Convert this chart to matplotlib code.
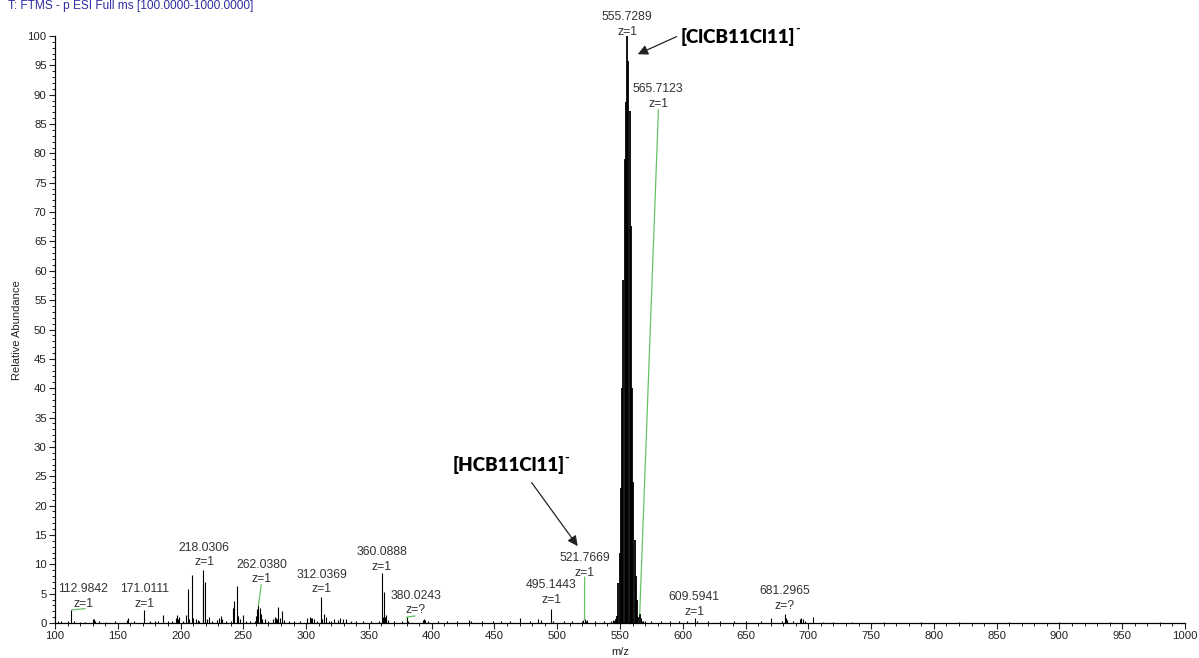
import matplotlib
matplotlib.use("Agg")
import matplotlib.pyplot as plt
import matplotlib.transforms as mtransforms
from matplotlib.ticker import MultipleLocator

# ---------------- data ----------------
mz = [102, 105, 110, 112.9842, 115, 120, 124, 130.0, 131.0, 132.0, 135, 141, 148,
      157.0, 158.0, 163, 171.0111, 176, 180, 182, 186.0, 190, 193, 196.0, 197.0,
      198.0, 199.0, 202, 204.0, 206.0, 207.0, 208.8, 210.0, 212, 214, 215,
      217.6, 218.0306, 219.6, 221.0, 222.5, 225, 229, 231.0, 232.0, 233.0, 236,
      240, 241.5, 242.5, 244.8, 246.0, 247.5, 249.5, 252, 255, 259, 260.0, 261.0,
      262.0380, 263.0, 264.0, 265.0, 267, 270, 274, 275.0, 276.0, 277, 278.0,
      279, 280.5, 282, 286, 290, 295,
      301.0, 303.0, 304.0, 305.0, 306.0, 309, 312.0369, 313, 314.0, 316.0, 318,
      320, 322.0, 325.0, 327.0, 329, 332.0, 336, 340, 345, 352, 358, 360.0888,
      361.0, 362.0, 363.0, 364.0, 365, 370, 376, 380.0243, 381, 393.0, 394.0,
      395.0, 397, 405, 412, 420, 430.0, 431, 440, 449, 455, 462, 470.0, 478,
      485.0, 487, 495.1443, 497, 505, 512, 519.8, 520.8, 521.7669, 522.8, 523.8,
      530, 537, 543, 544.7, 545.7, 546.7,
      547.7, 548.7, 549.7, 550.7, 551.7, 552.7, 553.7, 554.7, 555.7289, 556.7,
      557.7, 558.7, 559.7, 560.7, 561.7, 562.7, 563.7, 564.7, 565.7123, 566.7,
      567.7, 568.7, 570,
      575, 583, 590, 597, 603, 609.5941, 611, 620, 630, 641, 650, 662, 670.5,
      679, 681.2965, 682.3, 683.3, 688, 693.5, 694.5, 695.5, 697, 704, 712, 720,
      735, 760, 790, 820, 860, 900, 940, 980]
intensity = [0.3, 0.3, 0.3, 2.2, 0.3, 0.2, 0.2, 0.6, 0.7, 0.4, 0.3, 0.2, 0.3,
             0.5, 0.9, 0.3, 2.2, 0.3, 0.4, 0.3, 1.4, 0.3, 0.4, 0.8, 1.3,
             0.6, 1.1, 0.3, 1.3, 5.8, 0.6, 8.2, 0.8, 0.6, 0.5, 0.4,
             6.4, 9.0, 7.0, 0.6, 1.0, 0.4, 0.5, 0.8, 1.2, 0.7, 0.3,
             0.4, 2.6, 3.8, 6.3, 1.2, 0.6, 1.3, 0.4, 0.3, 0.4, 1.2, 2.3,
             3.0, 2.5, 1.5, 0.7, 0.6, 0.3, 0.6, 1.0, 0.8, 0.6, 2.8,
             0.8, 2.0, 0.5, 0.3, 0.3, 0.3,
             0.8, 1.0, 0.8, 0.9, 0.6, 0.4, 4.5, 0.7, 1.5, 1.0, 0.4,
             0.3, 0.6, 0.5, 0.9, 0.7, 0.6, 0.3, 0.3, 0.3, 0.3, 0.4, 8.5,
             1.0, 5.2, 1.1, 1.3, 0.5, 0.3, 0.3, 1.0, 0.4, 0.5, 0.6,
             0.5, 0.4, 0.3, 0.3, 0.3, 0.5, 0.3, 0.3, 0.3, 0.3, 0.3, 0.8, 0.3,
             0.7, 0.5, 2.4, 0.3, 0.3, 0.3, 0.4, 0.5, 0.6, 0.4, 0.5,
             0.3, 0.3, 0.4, 0.5, 0.4, 0.6,
             1.2, 6.8, 12.0, 23.0, 40.0, 58.5, 79.0, 88.7, 100.0, 95.8,
             87.3, 67.6, 40.0, 24.1, 14.2, 8.0, 3.9, 1.1, 1.6, 0.8,
             0.4, 0.3, 0.3,
             0.3, 0.3, 0.3, 0.3, 0.3, 0.8, 0.3, 0.3, 0.3, 0.3, 0.3, 0.3, 0.8,
             0.4, 1.6, 0.9, 0.5, 0.3, 0.6, 0.8, 0.7, 0.4, 1.0, 0.2, 0.2,
             0.2, 0.2, 0.2, 0.2, 0.2, 0.2, 0.2, 0.2]

label_mz = [112.9842, 171.0111, 218.0306, 262.0380, 312.0369, 360.0888, 380.0243,
            495.1443, 521.7669, 555.7289, 565.7123, 609.5941, 681.2965]
label_mass = ["112.9842", "171.0111", "218.0306", "262.0380", "312.0369", "360.0888",
              "380.0243", "495.1443", "521.7669", "555.7289", "565.7123", "609.5941",
              "681.2965"]
label_charge = ["z=1", "z=1", "z=1", "z=1", "z=1", "z=1", "z=?", "z=1", "z=1",
                "z=1", "z=1", "z=1", "z=?"]
x_ticks = list(range(100, 1001, 50))
y_ticks = list(range(0, 101, 5))

# ---------------- layout ----------------
label_pos = [(122.6, 3.24), (171.6, 3.24), (218.7, 10.34), (264.6, 7.44),
             (312.4, 5.79), (360.2, 9.59), (387.5, 2.2), (495.3, 3.92),
             (521.9, 8.57), (555.8, 100.7), (580.5, 88.5), (609.1, 1.93),
             (681.4, 2.95)]
connectors = {0: (123.9, 2.45), 3: (264.2, 6.5), 6: (386.7, 1.2),
              8: (521.8, 7.8), 10: (580.6, 87.4)}

W, H = 1199, 658
fig = plt.figure(figsize=(W / 100, H / 100), dpi=100)
ax = fig.add_axes([55 / W, 1 - 623 / H, (1185 - 55) / W, (623 - 36) / H])

cl_x = [m for m in mz if 545 <= m <= 566]
cl_y = [v for m, v in zip(mz, intensity) if 545 <= m <= 566]
ot_x = [m for m in mz if not (545 <= m <= 566)]
ot_y = [v for m, v in zip(mz, intensity) if not (545 <= m <= 566)]
ax.vlines(ot_x, 0, ot_y, colors="black", linewidth=0.8)
ax.vlines(cl_x, 0, cl_y, colors="black", linewidth=1.3)

ax.set_xlim(100, 1000)
ax.set_ylim(0, 100)
for s in ("top", "right"):
    ax.spines[s].set_visible(False)
for s in ("left", "bottom"):
    ax.spines[s].set_linewidth(0.9)

ax.set_xticks(x_ticks)
ax.set_yticks(y_ticks)
ax.xaxis.set_minor_locator(MultipleLocator(10))
ax.yaxis.set_minor_locator(MultipleLocator(1))
ax.tick_params(axis="both", which="major", direction="out", length=4, width=0.8,
               labelsize=8.2, colors="#222222", pad=2)
ax.tick_params(axis="both", which="minor", direction="out", length=2.5, width=0.7,
               colors="#222222")
for lab in ax.get_xticklabels() + ax.get_yticklabels():
    lab.set_fontfamily("Liberation Sans")

lab_font = dict(fontfamily="Liberation Sans", fontsize=8.8, color="#333333",
                ha="center", va="center")
up = mtransforms.offset_copy(ax.transData, fig=fig, x=0, y=14.5, units="dots")
green = "#66c266"
for i, (m, mass, zc) in enumerate(zip(label_mz, label_mass, label_charge)):
    lx, ly = label_pos[i]
    ax.text(lx, ly, zc, clip_on=False, **lab_font)
    ax.text(lx, ly, mass, transform=up, clip_on=False, **lab_font)
    if i in connectors:
        h = intensity[mz.index(m)]
        ex, ey = connectors[i]
        ax.plot([m, ex], [h, ey], color=green, linewidth=0.9, clip_on=False)

bold = dict(fontfamily="Lato", fontweight="heavy", fontsize=13.5, color="black",
            va="center", ha="left")
t1 = ax.text(598.6, 99.9, "[ClCB11Cl11]", clip_on=False, **bold)
ax.annotate("-", xy=(1, 1), xycoords=t1, xytext=(-0.5, -1.0), textcoords="offset points",
            fontfamily="Lato", fontweight="bold", fontsize=9, va="center", ha="left")
t2 = ax.text(417.0, 26.9, "[HCB11Cl11]", clip_on=False, **bold)
ax.annotate("-", xy=(1, 1), xycoords=t2, xytext=(-0.5, -1.0), textcoords="offset points",
            fontfamily="Lato", fontweight="bold", fontsize=9, va="center", ha="left")

arrow = dict(arrowstyle="-|>,head_length=0.6,head_width=0.3", color="#222222",
             linewidth=0.9, shrinkA=0, shrinkB=0)
ax.annotate("", xy=(564.1, 96.9), xytext=(595.1, 99.9), arrowprops=arrow,
            annotation_clip=False)
ax.annotate("", xy=(516.3, 13.1), xytext=(479.7, 23.9), arrowprops=arrow,
            annotation_clip=False)

fig.text(8 / W, 1 - 6 / H, "T: FTMS - p ESI Full ms [100.0000-1000.0000]",
         fontfamily="Liberation Sans", fontsize=8.6, color="#2e2e9e",
         ha="left", va="center")
fig.text(17 / W, 1 - 330 / H, "Relative Abundance", rotation=90,
         fontfamily="Liberation Sans", fontsize=8.0, color="#222222",
         ha="center", va="center")
fig.text(620 / W, 1 - 652 / H, "m/z", fontfamily="Liberation Sans", fontsize=8.0,
         color="#222222", ha="center", va="center")

fig.savefig("out.png", dpi=100)
